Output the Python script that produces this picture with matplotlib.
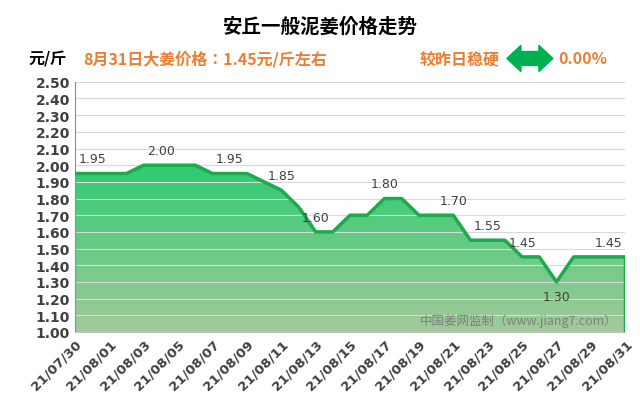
import matplotlib
matplotlib.use("Agg")
import matplotlib.pyplot as plt
import numpy as np
from matplotlib.patches import Polygon
from matplotlib import font_manager as fm
from matplotlib.colors import LinearSegmentedColormap
import datetime as dt

cjk = None
for f in fm.findSystemFonts():
    if 'NotoSansCJK' in f.replace(' ', '') or 'NotoSansCJKsc' in f or 'NotoSansSC' in f:
        cjk = f
        if 'Bold' in f:
            break
fm.fontManager.addfont(cjk) if cjk else None
cjkname = fm.FontProperties(fname=cjk).get_name() if cjk else 'Noto Sans CJK SC'
plt.rcParams['font.family'] = [cjkname, 'DejaVu Sans']

start = dt.date(2021, 7, 30)
dates = [start + dt.timedelta(days=i) for i in range(33)]
prices = [1.95, 1.95, 1.95, 1.95, 2.00, 2.00, 2.00, 2.00, 1.95, 1.95, 1.95, 1.90, 1.85,
          1.75, 1.60, 1.60, 1.70, 1.70, 1.80, 1.80, 1.70, 1.70, 1.70, 1.55, 1.55, 1.55,
          1.45, 1.45, 1.30, 1.45, 1.45, 1.45, 1.45]
label_idx = [1, 5, 9, 12, 14, 18, 22, 24, 26, 28, 31]
label_pos = ['above'] * 9 + ['below', 'above']
yticks = np.round(np.arange(1.0, 2.501, 0.1), 2)

fig = plt.figure(figsize=(6.4, 4.1), dpi=100)
ax = fig.add_axes([0.117, 0.188, 0.86, 0.61])
x = np.arange(len(dates))
y = np.array(prices)
ax.set_xlim(0, len(dates) - 1)
ax.set_ylim(1.0, 2.5)

grad = np.linspace(0, 1, 256).reshape(-1, 1)
cmap = LinearSegmentedColormap.from_list('g', ['#a3c99a', '#2ecc71'])
im = ax.imshow(grad, aspect='auto', cmap=cmap, origin='lower',
               extent=[0, len(dates) - 1, 1.0, 2.0], zorder=1)
poly = Polygon(np.column_stack([np.r_[x, x[-1], x[0]], np.r_[y, 1.0, 1.0]]),
               closed=True, transform=ax.transData, facecolor='none', edgecolor='none')
ax.add_patch(poly)
im.set_clip_path(poly)
ax.plot(x, y, color='#1aab4a', lw=2.5, zorder=3)
ax.plot([x[-1], x[-1]], [1.0, y[-1]], color='#1aab4a', lw=2.5, zorder=3)

for i, p in zip(label_idx, label_pos):
    dy = 0.05 if p == 'above' else -0.05
    ax.text(x[i], y[i] + dy, f"{y[i]:.2f}", ha='center', va='bottom' if p == 'above' else 'top',
            fontsize=9, color='#404040', family='DejaVu Sans', zorder=4)

ax.set_yticks(yticks)
ax.set_yticklabels([f"{v:.2f}" for v in yticks], fontsize=10, fontweight='bold', color='#404040',
                   family='DejaVu Sans')
ax.set_xticks(x[::2])
ax.set_xticklabels([d.strftime('%y/%m/%d') for d in dates[::2]], rotation=45, ha='right',
                   rotation_mode='anchor', fontsize=9.5, fontweight='bold', color='#404040',
                   family='DejaVu Sans')
ax.yaxis.grid(True, color='#d9d9d9', lw=0.8, zorder=0)
ax.tick_params(length=0)
for s in ['top', 'right']:
    ax.spines[s].set_visible(False)
ax.spines['left'].set_color('#5b9bd5')
ax.spines['bottom'].set_color('#bfbfbf')

ax.text(0.985, 0.02, '中国姜网监制（www.jiang7.com）', transform=ax.transAxes, ha='right',
        va='bottom', fontsize=9, color='#7f7f7f', zorder=5)

fig.text(0.5, 0.935, '安丘一般泥姜价格走势', ha='center', va='center', fontsize=14, fontweight='bold')
fig.text(0.045, 0.855, '元/斤', ha='left', va='center', fontsize=11.5, fontweight='bold')
fig.text(0.13, 0.855, '8月31日大姜价格：1.45元/斤左右', ha='left', va='center', fontsize=11.5,
         color='#ed7d31', fontweight='bold')
fig.text(0.655, 0.855, '较昨日稳硬', ha='left', va='center', fontsize=11.5, color='#ed7d31',
         fontweight='bold')
fig.text(0.872, 0.855, '0.00%', ha='left', va='center', fontsize=11.5, color='#ed7d31', fontweight='bold')
ax0, ax1, cy = 0.792, 0.864, 0.855
hl, bw, hw = 0.022, 0.017, 0.032
pts = [(ax0, cy), (ax0 + hl, cy + hw), (ax0 + hl, cy + bw), (ax1 - hl, cy + bw), (ax1 - hl, cy + hw),
       (ax1, cy), (ax1 - hl, cy - hw), (ax1 - hl, cy - bw), (ax0 + hl, cy - bw), (ax0 + hl, cy - hw)]
fig.patches.append(Polygon(pts, closed=True, transform=fig.transFigure, color='#00b050'))

fig.savefig('out.png', dpi=100)
